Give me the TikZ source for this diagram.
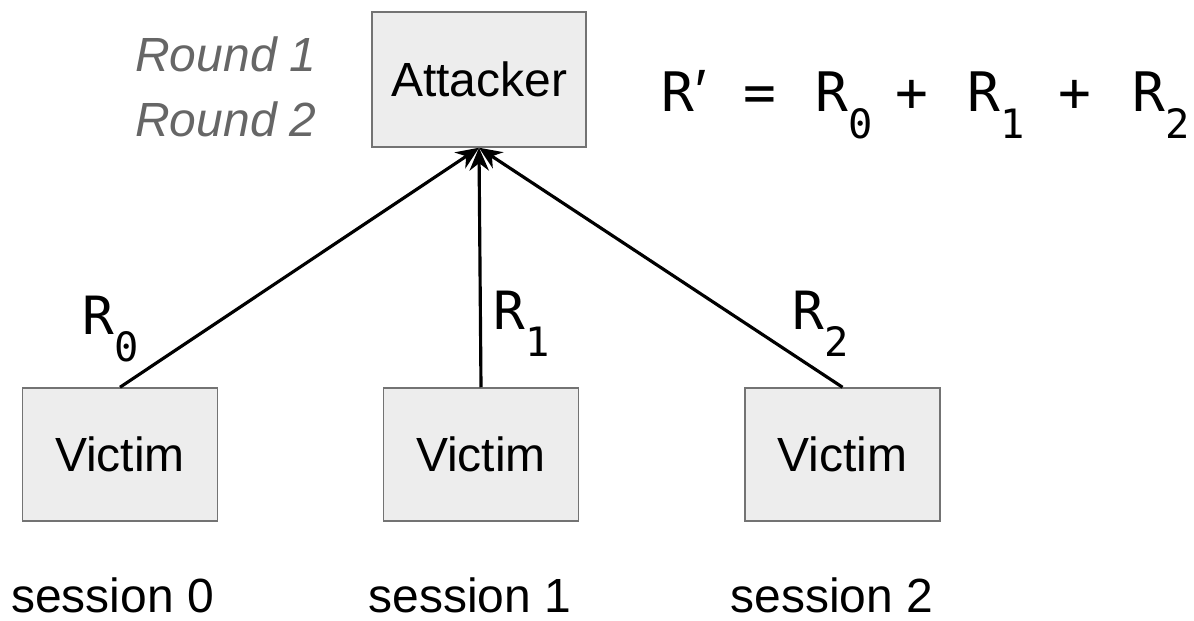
\documentclass[tikz,border=0pt]{standalone}
\usepackage{fontspec}
\setmainfont{Liberation Sans}
\newfontfamily\monofont{DejaVu Sans Mono}
\newfontfamily\primefont{Liberation Sans}
\usetikzlibrary{arrows.meta}
\newcommand{\rsub}[1]{\raisebox{-15pt}{\fontsize{23}{23}\selectfont #1}}
\newcommand{\fpart}[2]{\makebox[#1][l]{#2}}

\begin{document}
\begin{tikzpicture}[
  box/.style={draw=black!55,line width=0.85pt,fill=black!7,font=\fontsize{27.3}{29}\selectfont},
  rlbl/.style={anchor=base west,inner sep=0pt,font=\monofont\fontsize{30}{30}\selectfont},
  slbl/.style={anchor=base,inner sep=0pt,font=\fontsize{27.3}{29}\selectfont},
  link/.style={-{Stealth[length=13pt,width=11pt]},line width=1.8pt}]
\useasboundingbox (0,0) rectangle (23.88,12.42);
% boxes
\node[box,minimum width=4.28cm,minimum height=2.7cm] (att) at (9.58,10.83) {Attacker};
\node[box,minimum width=3.9cm,minimum height=2.66cm] (v0) at (2.40,3.33) {Victim};
\node[box,minimum width=3.9cm,minimum height=2.66cm] (v1) at (9.62,3.33) {Victim};
\node[box,minimum width=3.9cm,minimum height=2.66cm] (v2) at (16.85,3.33) {Victim};
\node[anchor=base west,inner sep=0pt,text=black!60,font=\itshape\fontsize{27.3}{29}\selectfont] (rd1) at (2.70,10.98) {Round 1};
\node[anchor=base west,inner sep=0pt,text=black!60,font=\itshape\fontsize{27.3}{29}\selectfont] (rd2) at (2.70,9.68) {Round 2};
% sum of the responses
\node[anchor=base west,inner sep=0pt,font=\monofont\fontsize{31}{31}\selectfont] (sum) at (13.22,10.18)
  {\fpart{46.7pt}{R\kern1pt{\primefont\fontsize{34}{34}\selectfont′}}\fpart{41pt}{=}\fpart{45.5pt}{R\rsub{0}}\fpart{41pt}{+}\fpart{51.8pt}{R\rsub{1}}\fpart{42.1pt}{+}R\rsub{2}};
% responses
\draw[link] (v0.north) -- (att.south);
\draw[link] (v1.north) -- (att.south);
\draw[link] (v2.north) -- (att.south);
\node[rlbl] (l0) at (1.64,5.72) {R\rsub{0}};
\node[rlbl] (l1) at (9.86,5.82) {R\rsub{1}};
\node[rlbl] (l2) at (15.84,5.82) {R\rsub{2}};
\node[slbl] (s0) at (2.25,0.17) {session 0};
\node[slbl] (s1) at (9.40,0.17) {session 1};
\node[slbl] (s2) at (16.64,0.17) {session 2};
\end{tikzpicture}
\end{document}
